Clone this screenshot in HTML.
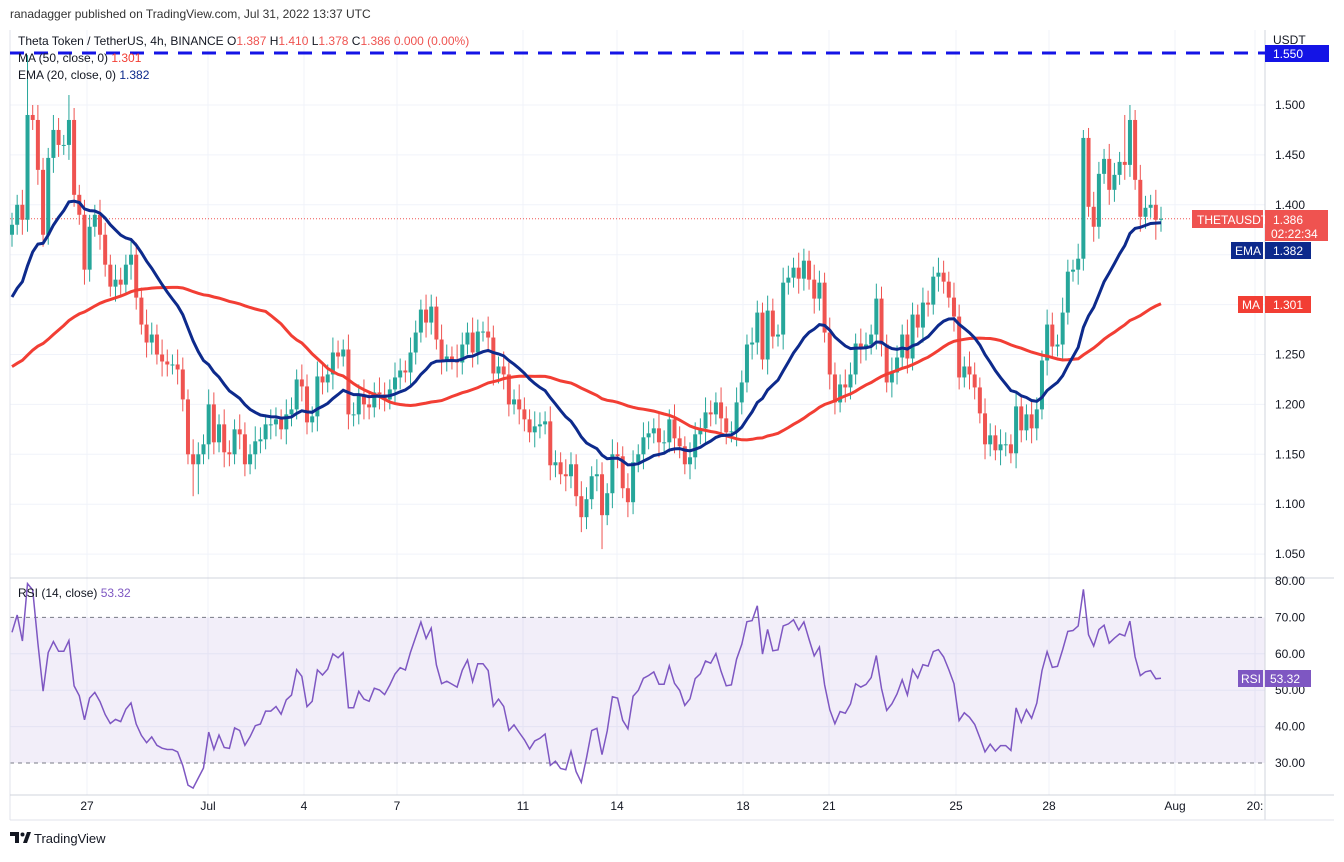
<!DOCTYPE html>
<html><head><meta charset="utf-8"><style>
body{margin:0;background:#fff;font-family:"Liberation Sans",sans-serif;}
svg text{font-family:"Liberation Sans",sans-serif;}
</style></head><body>
<svg id="c" width="1344" height="857" xmlns="http://www.w3.org/2000/svg"></svg>
<script>
const closes=[1.38,1.40,1.385,1.49,1.485,1.435,1.37,1.447,1.475,1.46,1.46,1.485,1.41,1.39,1.335,1.378,1.39,1.37,1.34,1.318,1.325,1.32,1.34,1.35,1.307,1.28,1.262,1.27,1.25,1.243,1.24,1.24,1.235,1.205,1.15,1.14,1.15,1.16,1.2,1.162,1.18,1.152,1.15,1.175,1.17,1.14,1.15,1.163,1.165,1.18,1.18,1.185,1.175,1.19,1.195,1.225,1.218,1.182,1.188,1.228,1.222,
1.23,1.252,1.248,1.255,1.19,1.19,1.21,1.2,1.197,1.212,1.21,1.205,1.215,1.227,1.234,1.232,1.252,1.272,1.295,1.282,1.298,1.265,1.245,1.248,1.245,1.242,1.26,1.272,1.252,1.273,1.273,1.267,1.231,1.238,1.23,1.2,1.205,1.195,1.185,1.172,1.178,1.18,1.183,1.139,1.142,1.13,1.128,1.14,1.108,1.087,1.105,1.128,1.13,1.089,1.111,1.15,1.148,1.116,1.102,1.142,1.15,1.167,1.171,
1.176,1.162,1.162,1.185,1.166,1.158,1.14,1.147,1.17,1.176,1.192,1.19,1.202,1.186,1.172,1.173,1.202,1.222,1.26,1.262,1.292,1.245,1.294,1.268,1.27,1.322,1.327,1.337,1.326,1.344,1.325,1.306,1.322,1.272,1.23,1.202,1.22,1.217,1.23,1.261,1.256,1.26,1.27,1.306,1.26,1.222,1.232,1.247,1.27,1.246,1.29,1.277,1.302,1.3,1.328,1.332,1.323,1.307,1.288,1.227,1.238,
1.23,1.217,1.191,1.16,1.169,1.154,1.16,1.16,1.151,1.198,1.174,1.19,1.176,1.195,1.244,1.28,1.258,1.26,1.292,1.333,1.335,1.346,1.467,1.398,1.378,1.431,1.446,1.415,1.43,1.443,1.44,1.485,1.425,1.388,1.397,1.4,1.385,1.386];
const firstOpen=1.37;
const wicks=[0.012,0.01,0.015];
const highOverrides={3:1.55,4:1.495,11:1.51,5:1.49};
const lowOverrides={35:1.108,36:1.11,114:1.055,110:1.08};
const highFromEnd={6:1.50,7:1.49,15:1.475};
const lowFromEnd={1:1.365};
const priceTicks=[1.5,1.45,1.4,1.35,1.3,1.25,1.2,1.15,1.1,1.05];
const rsiTicks=[80,70,60,50,40,30];
const dateLabels=["27","Jul","4","7","11","14","18","21","25","28","Aug","20:"];
const dateX=[87,208,304,397,523,617,743,829,956,1049,1175,1255];
const lastPrice=1.386, emaLast=1.382, maLast=1.301, rsiLast=53.32;

const svg=document.getElementById('c');const NS='http://www.w3.org/2000/svg';
function mk(t,a,p){const e=document.createElementNS(NS,t);for(const k in a)e.setAttribute(k,a[k]);(p||svg).appendChild(e);return e;}
const PL=10,PR=1265;
const py=p=>105+(1.5-p)*998;
const ry=v=>581+(80-v)*3.64;
const n=closes.length;const x0=12,step=(1161-x0)/(n-1);
const cx=i=>x0+i*step;

priceTicks.forEach(p=>{const l=mk('line',{x1:PL,x2:PR,y1:py(p),y2:py(p),stroke:'#f0f3fa'});
});
dateX.forEach(x=>{const l=mk('line',{x1:x,x2:x,y1:30,y2:795,stroke:'#f0f3fa'});
});
[60,50,40].forEach(v=>{mk('line',{x1:PL,x2:PR,y1:ry(v),y2:ry(v),stroke:'#f0f3fa'});});
const band=mk('rect',{x:PL,y:ry(70),width:PR-PL,height:ry(30)-ry(70),fill:'#7e57c2','fill-opacity':0.1});

[70,30].forEach(v=>{const l=mk('line',{x1:PL,x2:PR,y1:ry(v),y2:ry(v),stroke:'#787b86','stroke-dasharray':'4 4'});
});
mk('line',{x1:PR,x2:PR,y1:30,y2:820,stroke:'#d1d4dc'});
mk('line',{x1:PL,x2:PL,y1:30,y2:820,stroke:'#e0e3eb'});
mk('line',{x1:PL,x2:1334,y1:578,y2:578,stroke:'#d1d4dc'});
mk('line',{x1:PL,x2:1334,y1:795,y2:795,stroke:'#d1d4dc'});
mk('line',{x1:PL,x2:1334,y1:820,y2:820,stroke:'#e0e3eb'});
const res=mk('line',{x1:PL,x2:PR,y1:53,y2:53,stroke:'#1414e6','stroke-width':3,'stroke-dasharray':'14 10'});

mk('line',{x1:PL,x2:PR,y1:py(lastPrice),y2:py(lastPrice),stroke:'#ef5350','stroke-dasharray':'1 2'});

const cg=mk('g',{});
for(let i=0;i<n;i++){const o=i?closes[i-1]:firstOpen,c=closes[i];
 const w=wicks[i%3];
 let h=Math.max(o,c)+w, l=Math.min(o,c)-w;
 if(highOverrides[i]!==undefined)h=Math.max(h,highOverrides[i]);
 if(highFromEnd[n-1-i]!==undefined)h=Math.max(Math.max(o,c),highFromEnd[n-1-i]);
 if(lowOverrides[i]!==undefined)l=Math.min(l,lowOverrides[i]);
 if(lowFromEnd[n-1-i]!==undefined)l=Math.min(Math.min(o,c),lowFromEnd[n-1-i]);
 const col=c>=o?'#26a69a':'#ef5350';const x=cx(i);
 const g=mk('g',{},cg);
 mk('line',{x1:x,x2:x,y1:py(h),y2:py(l),stroke:col,'stroke-width':1},g);
 const yt=py(Math.max(o,c)),yb=py(Math.min(o,c));
 mk('rect',{x:x-2,y:yt,width:4,height:Math.max(1,yb-yt),fill:col},g);}

let e=1.30;const ema=[];const k=2/21;closes.forEach(c=>{e=c*k+e*(1-k);ema.push(e);});
const maSeed=1.235;const ma=closes.map((c,i)=>{let s=0;for(let j=i-49;j<=i;j++)s+=j>=0?closes[j]:maSeed;return s/50;});
function path(arr,f){return arr.map((v,i)=>(i?'L':'M')+cx(i).toFixed(1)+' '+f(v).toFixed(1)).join(' ');}
const maL=mk('path',{d:path(ma,py),fill:'none',stroke:'#f23e34','stroke-width':3});

const emL=mk('path',{d:path(ema,py),fill:'none',stroke:'#0d2a8c','stroke-width':3});


let ag=0.006,al=0.0035;const rsi=[];
closes.forEach((c,i)=>{const d=c-(i?closes[i-1]:firstOpen);ag=(ag*13+Math.max(d,0))/14;al=(al*13+Math.max(-d,0))/14;rsi.push(100-100/(1+ag/al));});
const rl=mk('path',{d:path(rsi,ry),fill:'none',stroke:'#7e57c2','stroke-width':1.5});


function txt(x,y,s,o){const t=mk('text',Object.assign({x:x,y:y,'font-size':12,fill:'#131722'},o||{}));t.textContent=s;return t;}
txt(1273,44,'USDT');
mk('rect',{x:1265,y:45,width:64,height:17,fill:'#1414e6'});
txt(1273,58,'1.550',{fill:'#fff'});
priceTicks.forEach(p=>{const t=txt(1275,py(p)+4,p.toFixed(3));});
rsiTicks.forEach(v=>{const t=txt(1275,ry(v)+4,v.toFixed(2));});
dateLabels.forEach((s,i)=>{const t=txt(dateX[i],810,s,{'text-anchor':'middle'});});
mk('rect',{x:1192,y:210,width:71,height:18,fill:'#ef5350'});txt(1197,224,'THETAUSDT',{fill:'#fff'});
mk('rect',{x:1265,y:210,width:63,height:31,fill:'#ef5350'});txt(1273,224,lastPrice.toFixed(3),{fill:'#fff'});txt(1271,238,'02:22:34',{fill:'#fff'});
mk('rect',{x:1231,y:242,width:32,height:17,fill:'#0d2a8c'});txt(1235,255,'EMA',{fill:'#fff'});
mk('rect',{x:1265,y:242,width:46,height:17,fill:'#0d2a8c'});txt(1273,255,emaLast.toFixed(3),{fill:'#fff'});
mk('rect',{x:1238,y:296,width:25,height:17,fill:'#f23e34'});txt(1242,309,'MA',{fill:'#fff'});
mk('rect',{x:1265,y:296,width:46,height:17,fill:'#f23e34'});txt(1273,309,maLast.toFixed(3),{fill:'#fff'});
mk('rect',{x:1238,y:670,width:25,height:17,fill:'#7e57c2'});txt(1241,683,'RSI',{fill:'#fff'});
mk('rect',{x:1265,y:670,width:46,height:17,fill:'#7e57c2'});txt(1270,683,rsiLast.toFixed(2),{fill:'#fff'});
txt(10,18,'ranadagger published on TradingView.com, Jul 31, 2022 13:37 UTC',{fill:'#333'});
const h=mk('text',{x:18,y:45,'font-size':12,fill:'#131722'});
h.innerHTML='Theta Token / TetherUS, 4h, BINANCE  <tspan fill="#131722"> O</tspan><tspan fill="#ef5350">1.387</tspan> H<tspan fill="#ef5350">1.410</tspan> L<tspan fill="#ef5350">1.378</tspan> C<tspan fill="#ef5350">1.386 0.000 (0.00%)</tspan>';

const m=mk('text',{x:18,y:62,'font-size':12,fill:'#131722'});m.innerHTML='MA (50, close, 0) <tspan fill="#f23e34">1.301</tspan>';

const em=mk('text',{x:18,y:79,'font-size':12,fill:'#131722'});em.innerHTML='EMA (20, close, 0) <tspan fill="#0d2a8c">1.382</tspan>';

const rt=mk('text',{x:18,y:597,'font-size':12,fill:'#131722'});rt.innerHTML='RSI (14, close) <tspan fill="#7e57c2">53.32</tspan>';

const lg=mk('g',{});
mk('path',{d:'M10 832h9v11h-4v-7h-5z',fill:'#131722'},lg);mk('circle',{cx:22.5,cy:834.5,r:2,fill:'#131722'},lg);mk('path',{d:'M23 843l4-11h4l-4 11z',fill:'#131722'},lg);
txt(34,843,'TradingView',{'font-size':13,fill:'#131722'});
</script>
</body></html>
